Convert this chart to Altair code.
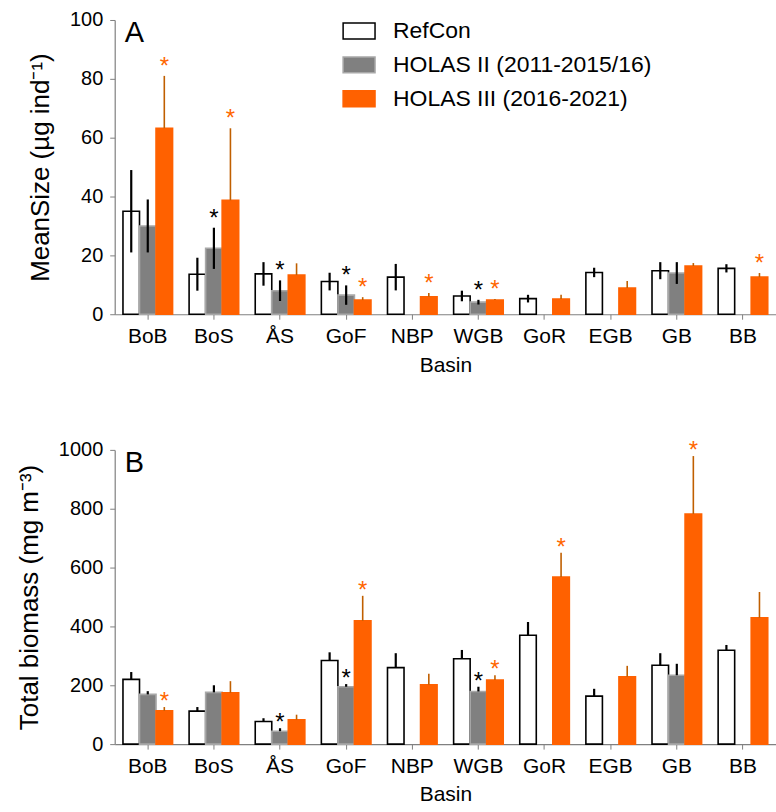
import altair as alt
import pandas as pd

basins = ["BoB", "BoS", "ÅS", "GoF", "NBP", "WGB", "GoR", "EGB", "GB", "BB"]
series = ["RefCon", "HOLAS II (2011-2015/16)", "HOLAS III (2016-2021)"]

# Panel A: mean size (µg ind-1)
size_ref = [35, 13.6, 13.7, 11.1, 12.6, 6.2, 5.3, 14.2, 14.8, 15.6]
size_ref_err = [14, 5.6, 4, 3, 4.5, 1.8, 1.3, 1.6, 2.9, 1.4]
size_h2 = [30, 22.4, 8, 6.5, None, 4.1, None, None, 14, None]
size_h2_err = [9, 7, 3.5, 3.3, None, 0.8, None, None, 3.7, None]
size_h3 = [63.2, 38.7, 13.3, 4.8, 5.9, 4.8, 5.2, 8.9, 16.4, 12.6]
size_h3_err = [17.8, 24.5, 4, 1, 1.3, 0.4, 1.4, 2.4, 1, 1.4]
size_h2_sig = ["BoS", "ÅS", "GoF", "WGB"]
size_h3_sig = ["BoB", "BoS", "GoF", "NBP", "WGB", "BB"]

# Panel B: total biomass (mg m-3)
bio_ref = [220, 112, 77, 284, 260, 290, 370, 163, 268, 319]
bio_ref_err = [25, 14, 11, 28, 49, 30, 45, 25, 41, 18]
bio_h2 = [169, 176, 44, 195, None, 179, None, None, 234, None]
bio_h2_err = [11, 24, 10, 9, None, 16, None, None, 39, None]
bio_h3 = [113, 174, 83, 419, 202, 218, 568, 229, 782, 429]
bio_h3_err = [13, 40, 17, 85, 37, 16, 82, 37, 197, 88]
bio_h2_sig = ["ÅS", "GoF", "WGB"]
bio_h3_sig = ["BoB", "GoF", "WGB", "GoR", "GB"]

FILLS = ["#FFFFFF", "#808080", "#FF6100"]
STROKES = ["#000000", "#A8A8A8", "#FF6100"]
FONT = "Liberation Sans"


def build(ref, ref_err, h2, h2_err, h3, h3_err, h2_sig, h3_sig, symmetric):
    rows = []
    for i, b in enumerate(basins):
        entries = [
            (series[0], ref[i], ref_err[i], False),
            (series[1], h2[i], h2_err[i], b in h2_sig),
            (series[2], h3[i], h3_err[i], b in h3_sig),
        ]
        for k, (s, v, e, sig) in enumerate(entries):
            if v is None:
                continue
            lo = v - e if (symmetric and k < 2) else v
            rows.append(dict(
                basin=b, series=s, value=v, lo=lo, hi=v + e,
                star="*" if sig else "",
                ecol="#C05F00" if k == 2 else "#000000",
                ew=1.6 if k == 2 else 2.2,
                scol="#FF6600" if k == 2 else "#000000",
            ))
    return pd.DataFrame(rows)


def panel(df, letter, ytitle, ymax, ystep, star_dy, show_legend):
    xenc = alt.X("basin:N", sort=basins,
                 scale=alt.Scale(paddingInner=0.25, paddingOuter=0.125),
                 axis=alt.Axis(title="Basin", labelAngle=0, tickSize=5,
                               labelFontSize=21, labelPadding=6, titlePadding=8))
    xoff = alt.XOffset("series:N", sort=series,
                       scale=alt.Scale(domain=series, paddingInner=0, paddingOuter=0))
    yscale = alt.Scale(domain=[0, ymax], nice=False)
    yaxis = alt.Axis(title=ytitle, values=list(range(0, ymax + 1, ystep)),
                     format="d", tickSize=5, labelPadding=7, titlePadding=16)
    if show_legend:
        legend = alt.Legend(
            title=None, orient="none", legendX=228, legendY=-6,
            symbolType="M-1,-0.5H1V0.5H-1Z", symbolSize=1024,
            symbolStrokeWidth=1.5, labelFontSize=23, labelOffset=17,
            rowPadding=5, padding=0, labelLimit=0,
        )
    else:
        legend = None
    bars = alt.Chart(df).mark_bar(strokeWidth=1.6).encode(
        x=xenc, xOffset=xoff,
        y=alt.Y("value:Q", scale=yscale, axis=yaxis),
        fill=alt.Fill("series:N", sort=series,
                      scale=alt.Scale(domain=series, range=FILLS), legend=legend),
        stroke=alt.Stroke("series:N", sort=series,
                          scale=alt.Scale(domain=series, range=STROKES), legend=legend),
    )
    errs = alt.Chart(df).mark_rule().encode(
        x=xenc, xOffset=xoff,
        y=alt.Y("lo:Q", scale=yscale),
        y2="hi:Q",
        color=alt.Color("ecol:N", scale=None),
        strokeWidth=alt.StrokeWidth("ew:Q", scale=None),
    )
    stars = alt.Chart(df).transform_filter("datum.star != ''").mark_text(
        fontSize=24, baseline="alphabetic", dy=star_dy, font=FONT
    ).encode(
        x=xenc, xOffset=xoff,
        y=alt.Y("hi:Q", scale=yscale),
        text="star:N",
        color=alt.Color("scol:N", scale=None),
    )
    label = alt.Chart(pd.DataFrame({"t": [letter]})).mark_text(
        fontSize=29, align="left", baseline="top", font=FONT, color="#000000"
    ).encode(x=alt.value(10), y=alt.value(-1), text="t:N")
    return alt.layer(bars, errs, stars, label).properties(width=663, height=295)


df_a = build(size_ref, size_ref_err, size_h2, size_h2_err, size_h3, size_h3_err,
             size_h2_sig, size_h3_sig, True)
df_b = build(bio_ref, bio_ref_err, bio_h2, bio_h2_err, bio_h3, bio_h3_err,
             bio_h2_sig, bio_h3_sig, False)

top = panel(df_a, "A", "MeanSize (µg ind⁻¹)", 100, 20, -2, True)
bottom = panel(df_b, "B", "Total biomass (mg m⁻³)", 1000, 200, 2, False)

chart = alt.vconcat(top, bottom, spacing=64).resolve_scale(
    fill="independent", stroke="independent"
).properties(
    padding={"left": 16, "top": 9, "right": 0, "bottom": 0}
).configure(font=FONT).configure_view(stroke=None).configure_axis(
    grid=False, domainColor="#808080", tickColor="#808080", domainWidth=1.2,
    labelFontSize=20, labelColor="#000000", labelFont=FONT,
    titleFontSize=26, titleFontWeight="normal", titleColor="#000000", titleFont=FONT,
).configure_axisX(titleFontSize=21).configure_legend(
    symbolSize=1024, labelFontSize=23, labelFont=FONT, labelColor="#000000",
    labelLimit=0, symbolStrokeWidth=1.5,
)

chart.save("out.html", embed_options={"renderer": "svg", "actions": False})
